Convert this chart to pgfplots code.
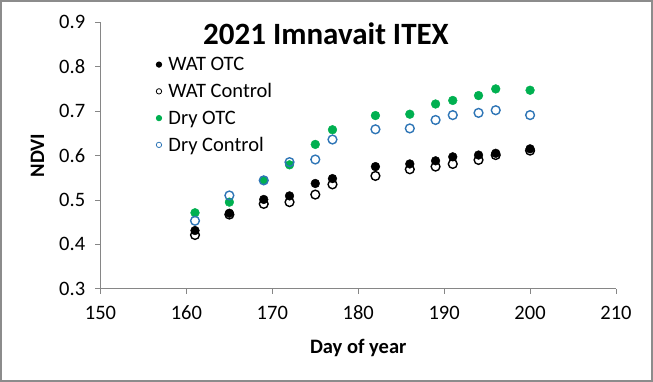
\documentclass[border=0pt]{standalone}
\usepackage{pgfplots}
\pgfplotsset{compat=1.18}
\usepackage{fontspec}
\setmainfont{Carlito}
\definecolor{xlgreen}{RGB}{0,176,80}
\definecolor{xlblue}{RGB}{46,117,182}
\definecolor{axgray}{RGB}{134,134,134}
\definecolor{framegray}{RGB}{140,140,140}
\begin{document}
\begin{tikzpicture}
\begin{axis}[
  scale only axis, width=515.5pt, height=266.4pt,
  xmin=150, xmax=210, ymin=0.3, ymax=0.9,
  xtick={150,160,170,180,190,200,210},
  ytick={0.3,0.4,0.5,0.6,0.7,0.8,0.9},
  yticklabel style={/pgf/number format/fixed, /pgf/number format/precision=1, /pgf/number format/fixed zerofill, xshift=-6.8pt},
  xticklabel style={yshift=-8.6pt},
  /pgf/number format/assume math mode=true,
  axis x line*=bottom, axis y line*=left,
  axis line style={axgray, line width=0.75pt, -},
  tick style={axgray, line width=0.75pt},
  tick align=outside, major tick length=5pt,
  tick label style={font=\fontsize{20.5}{24}\selectfont},
  xlabel={Day of year}, ylabel={NDVI},
  label style={font=\fontsize{20.5}{24}\selectfont\bfseries},
  xlabel style={at={(axis description cs:0.5,0)}, anchor=center, yshift=-59.6pt},
  ylabel style={at={(axis description cs:0,0.5)}, anchor=center, yshift=63pt},
  legend style={at={(axis cs:156.26,0.8264)}, anchor=north west, draw=none, fill=none,
    font=\fontsize{20.5}{24}\selectfont, row sep=7.5pt, inner sep=0pt,
    cells={anchor=west}},
  legend image code/.code={\path[draw=none,fill=none] (0pt,0pt) -- (12pt,0pt); \draw[#1, mark size=2.7pt, every mark/.append style={line width=0.8pt}] plot coordinates {(4.5pt,0pt)};},
  every axis plot/.append style={only marks, mark size=4.4pt},
]
\addplot[mark=*, black] coordinates {
(161,0.431) (165,0.470) (169,0.501) (172,0.509) (175,0.537) (177,0.548) (182,0.575) (186,0.581) (189,0.588) (191,0.597) (194,0.601) (196,0.605) (200,0.615)};
\addlegendentry{WAT OTC}
\addplot[mark=o, black, mark options={line width=1.4pt}] coordinates {
(161,0.421) (165,0.467) (169,0.491) (172,0.495) (175,0.512) (177,0.535) (182,0.554) (186,0.569) (189,0.575) (191,0.581) (194,0.590) (196,0.601) (200,0.611)};
\addlegendentry{WAT Control}
\addplot[mark=*, xlgreen] coordinates {
(161,0.471) (165,0.495) (169,0.544) (172,0.579) (175,0.625) (177,0.658) (182,0.690) (186,0.693) (189,0.716) (191,0.724) (194,0.735) (196,0.750) (200,0.747)};
\addlegendentry{Dry OTC}
\addplot[mark=o, xlblue, mark options={line width=1.4pt}] coordinates {
(161,0.453) (165,0.510) (169,0.544) (172,0.585) (175,0.591) (177,0.636) (182,0.659) (186,0.661) (189,0.680) (191,0.691) (194,0.696) (196,0.702) (200,0.691)};
\addlegendentry{Dry Control}
\node[font=\fontsize{31}{36}\selectfont\bfseries, anchor=base] at (rel axis cs:0.4374,0.9174) {2021 Imnavait ITEX};
\end{axis}
\draw[framegray, line width=2pt] (-99.5pt,-92.3pt) rectangle (551.5pt,287.7pt);
\pgfresetboundingbox
\useasboundingbox (-100.5pt,-93.3pt) rectangle (552.5pt,288.7pt);
\end{tikzpicture}
\end{document}
